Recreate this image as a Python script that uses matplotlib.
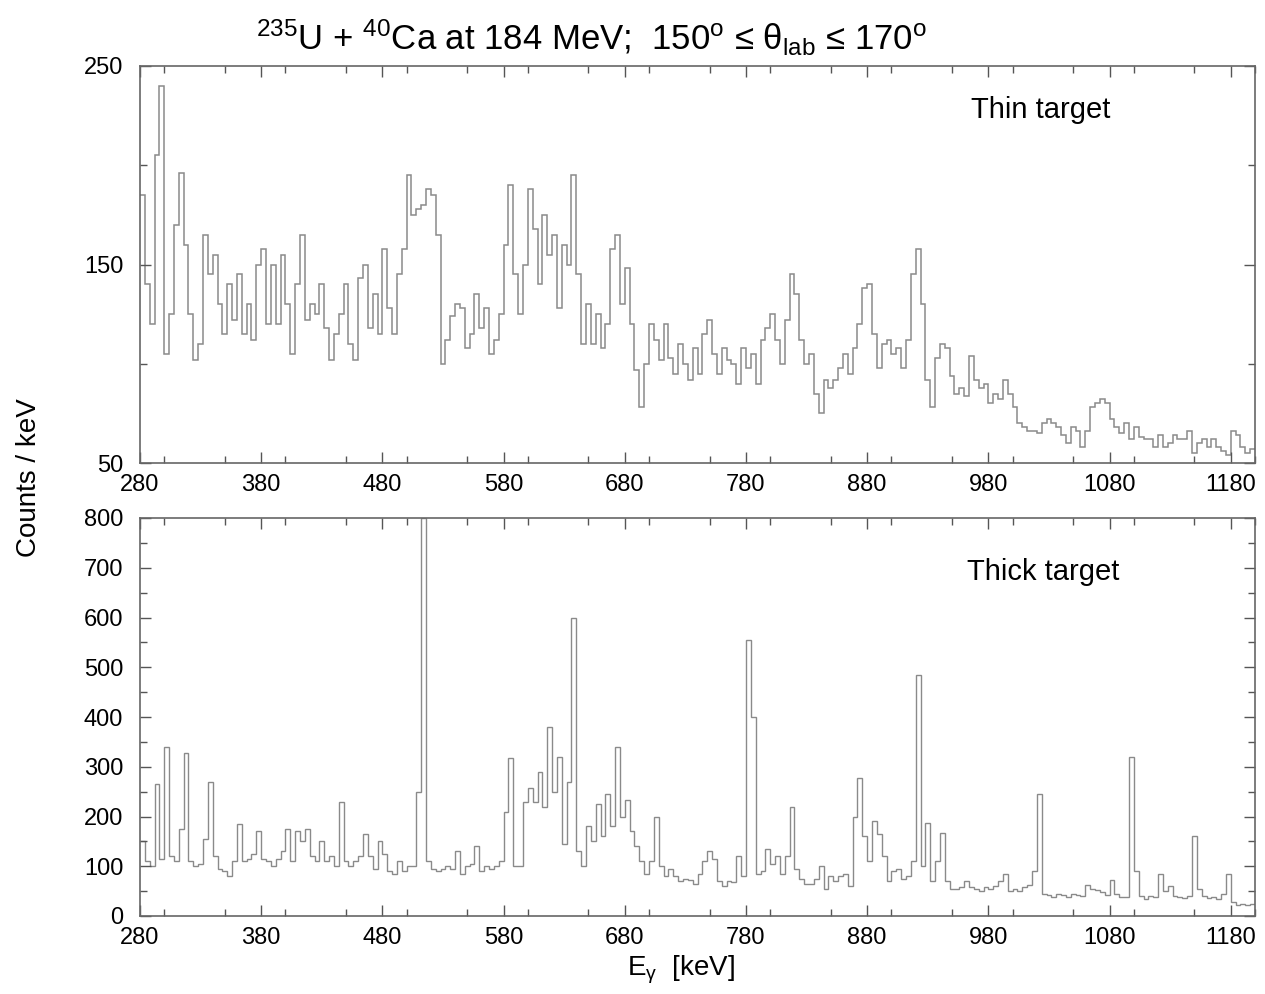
import matplotlib
matplotlib.use("Agg")
import matplotlib.pyplot as plt
import numpy as np
from matplotlib.ticker import MultipleLocator, FixedLocator

plt.rcParams['font.family'] = ['Liberation Sans', 'DejaVu Sans']
plt.rcParams['mathtext.fontset'] = 'custom'
plt.rcParams['mathtext.rm'] = 'Liberation Sans'
plt.rcParams['mathtext.it'] = 'Liberation Sans'

# energy bins: 4 keV wide, 280 -> 1200 keV
bin_start = 280
bin_width = 4

# thin target, counts / keV per bin
thin_counts = [
    185, 140, 120, 205, 240, 105, 125, 170, 196, 160, 125, 102, 110, 165, 145, 155,   # 280-340
    130, 115, 140, 122, 145, 115, 130, 112, 150, 158, 120, 150, 120, 155, 130, 105,   # 344-404
    140, 165, 122, 130, 125, 140, 118, 102, 115, 125, 140, 110, 102, 143, 150, 118,   # 408-468
    135, 115, 158, 128, 115, 145, 158, 195, 175, 178, 180, 188, 185, 165, 100, 112,   # 472-532
    124, 130, 128, 108, 115, 135, 118, 128, 105, 112, 125, 160, 190, 145, 125, 150,   # 536-596
    188, 168, 140, 175, 155, 165, 128, 160, 150, 195, 145, 110, 130, 110, 125, 108,   # 600-660
    120, 158, 165, 130, 148, 120, 97, 78, 100, 120, 112, 102, 120, 103, 95, 110,      # 664-724
    100, 92, 108, 95, 115, 122, 105, 95, 108, 102, 100, 90, 108, 98, 105, 90,         # 728-788
    112, 118, 125, 112, 100, 122, 145, 135, 112, 100, 105, 85, 75, 92, 88, 92,        # 792-852
    98, 105, 95, 108, 120, 138, 140, 115, 98, 110, 112, 105, 108, 98, 112, 145,       # 856-916
    158, 130, 92, 78, 103, 110, 108, 94, 85, 88, 84, 104,                             # 920-964
    92, 88, 90, 80, 85, 82, 92, 85, 78, 70, 68, 66, 66, 65, 70, 72,                   # 968-1028
    70, 68, 64, 60, 68, 66, 58, 66, 78, 80, 82, 80, 72, 68, 65, 70,                   # 1032-1092
    62, 68, 63, 62, 62, 58, 64, 58, 60, 64, 62, 62, 66, 55, 60, 62,                   # 1096-1156
    58, 62, 58, 56, 54, 66, 64, 58, 55, 57,                                           # 1160-1196
]

# thick target, counts / keV per bin
thick_counts = [
    150, 110, 100, 265, 115, 340, 120, 110, 175, 327, 110, 100, 105, 155, 270, 120,   # 280-340
    95, 90, 80, 110, 185, 110, 115, 125, 170, 115, 110, 100, 115, 130, 175, 110,      # 344-404
    170, 150, 175, 120, 110, 150, 110, 120, 100, 230, 110, 100, 110, 120, 165, 120,   # 408-468
    95, 150, 125, 90, 85, 110, 90, 100, 100, 250, 800, 110, 95, 90, 95, 100,          # 472-532
    95, 130, 85, 100, 105, 140, 90, 100, 95, 100, 110, 210, 317, 100, 100, 230,       # 536-596
    257, 230, 290, 220, 380, 250, 320, 145, 270, 600, 130, 100, 180, 150, 226, 160,   # 600-660
    245, 180, 340, 200, 233, 170, 140, 110, 85, 110, 200, 100, 80, 95, 80, 70,        # 664-724
    75, 72, 65, 85, 110, 130, 115, 70, 60, 70, 68, 120, 80, 555, 400, 85,             # 728-788
    90, 135, 105, 120, 85, 120, 220, 95, 75, 65, 65, 75, 100, 55, 80, 70,             # 792-852
    80, 85, 60, 200, 277, 160, 110, 190, 165, 120, 70, 90, 95, 75, 80, 110,           # 856-916
    484, 100, 186, 70, 110, 166, 70, 55, 55, 58, 70, 58,                              # 920-964
    55, 50, 58, 55, 60, 70, 85, 50, 55, 50, 58, 62, 90, 245, 45, 42,                  # 968-1028
    38, 45, 42, 38, 45, 42, 40, 62, 55, 52, 48, 42, 72, 45, 38, 38,                   # 1032-1092
    320, 90, 40, 35, 40, 38, 85, 50, 60, 40, 38, 36, 40, 160, 55, 40,                 # 1096-1156
    36, 38, 34, 45, 85, 28, 22, 25, 22, 25,                                           # 1160-1196
]

thin_yticks = [50, 150, 250]
energy_ticks = [280, 380, 480, 580, 680, 780, 880, 980, 1080, 1180]

edges = bin_start + bin_width * np.arange(len(thin_counts) + 1)

W, H = 1265, 994
fig = plt.figure(figsize=(W / 100, H / 100), dpi=100)
ax1 = fig.add_axes([140 / W, 1 - 463 / H, 1115 / W, 397 / H])
ax2 = fig.add_axes([140 / W, 1 - 916 / H, 1115 / W, 398 / H])

line_col = '#8a8a8a'
ax1.stairs(thin_counts, edges, color=line_col, lw=1.1, baseline=None)
ax2.stairs(thick_counts, edges, color=line_col, lw=1.0, baseline=None)

ax1.set_ylim(50, 250)
ax2.set_ylim(0, 800)
for ax in (ax1, ax2):
    ax.set_xlim(280, 1200)
    ax.xaxis.set_major_locator(FixedLocator(energy_ticks))
    ax.xaxis.set_minor_locator(MultipleLocator(50))
    ax.tick_params(which='both', direction='in', top=True, right=True,
                   colors='#555555', labelcolor='black', labelsize=17, width=1.0)
    ax.tick_params(which='major', length=8)
    ax.tick_params(which='minor', length=5)
    ax.tick_params(axis='x', pad=8)
    ax.tick_params(axis='y', pad=12)
    for s in ax.spines.values():
        s.set_color('#666666')
        s.set_linewidth(1.2)

ax1.yaxis.set_major_locator(FixedLocator(thin_yticks))
ax1.yaxis.set_minor_locator(MultipleLocator(50))
ax2.yaxis.set_major_locator(MultipleLocator(100))
ax2.yaxis.set_minor_locator(MultipleLocator(50))

ax1.text(0.745, 0.87, 'Thin target', transform=ax1.transAxes, fontsize=21)
ax2.text(0.742, 0.845, 'Thick target', transform=ax2.transAxes, fontsize=21)

fig.text(0.468, 0.962, r'$^{235}$U + $^{40}$Ca at 184 MeV;  150$^{o}$ ≤ θ$_{lab}$ ≤ 170$^{o}$',
         ha='center', va='center', fontsize=25)
fig.text(0.023, 0.519, 'Counts / keV', rotation=90, ha='center', va='center', fontsize=20)
fig.text(0.538, 0.024, r'E$_{\gamma}$  [keV]', ha='center', va='center', fontsize=20)

fig.savefig('out.png', dpi=100)
